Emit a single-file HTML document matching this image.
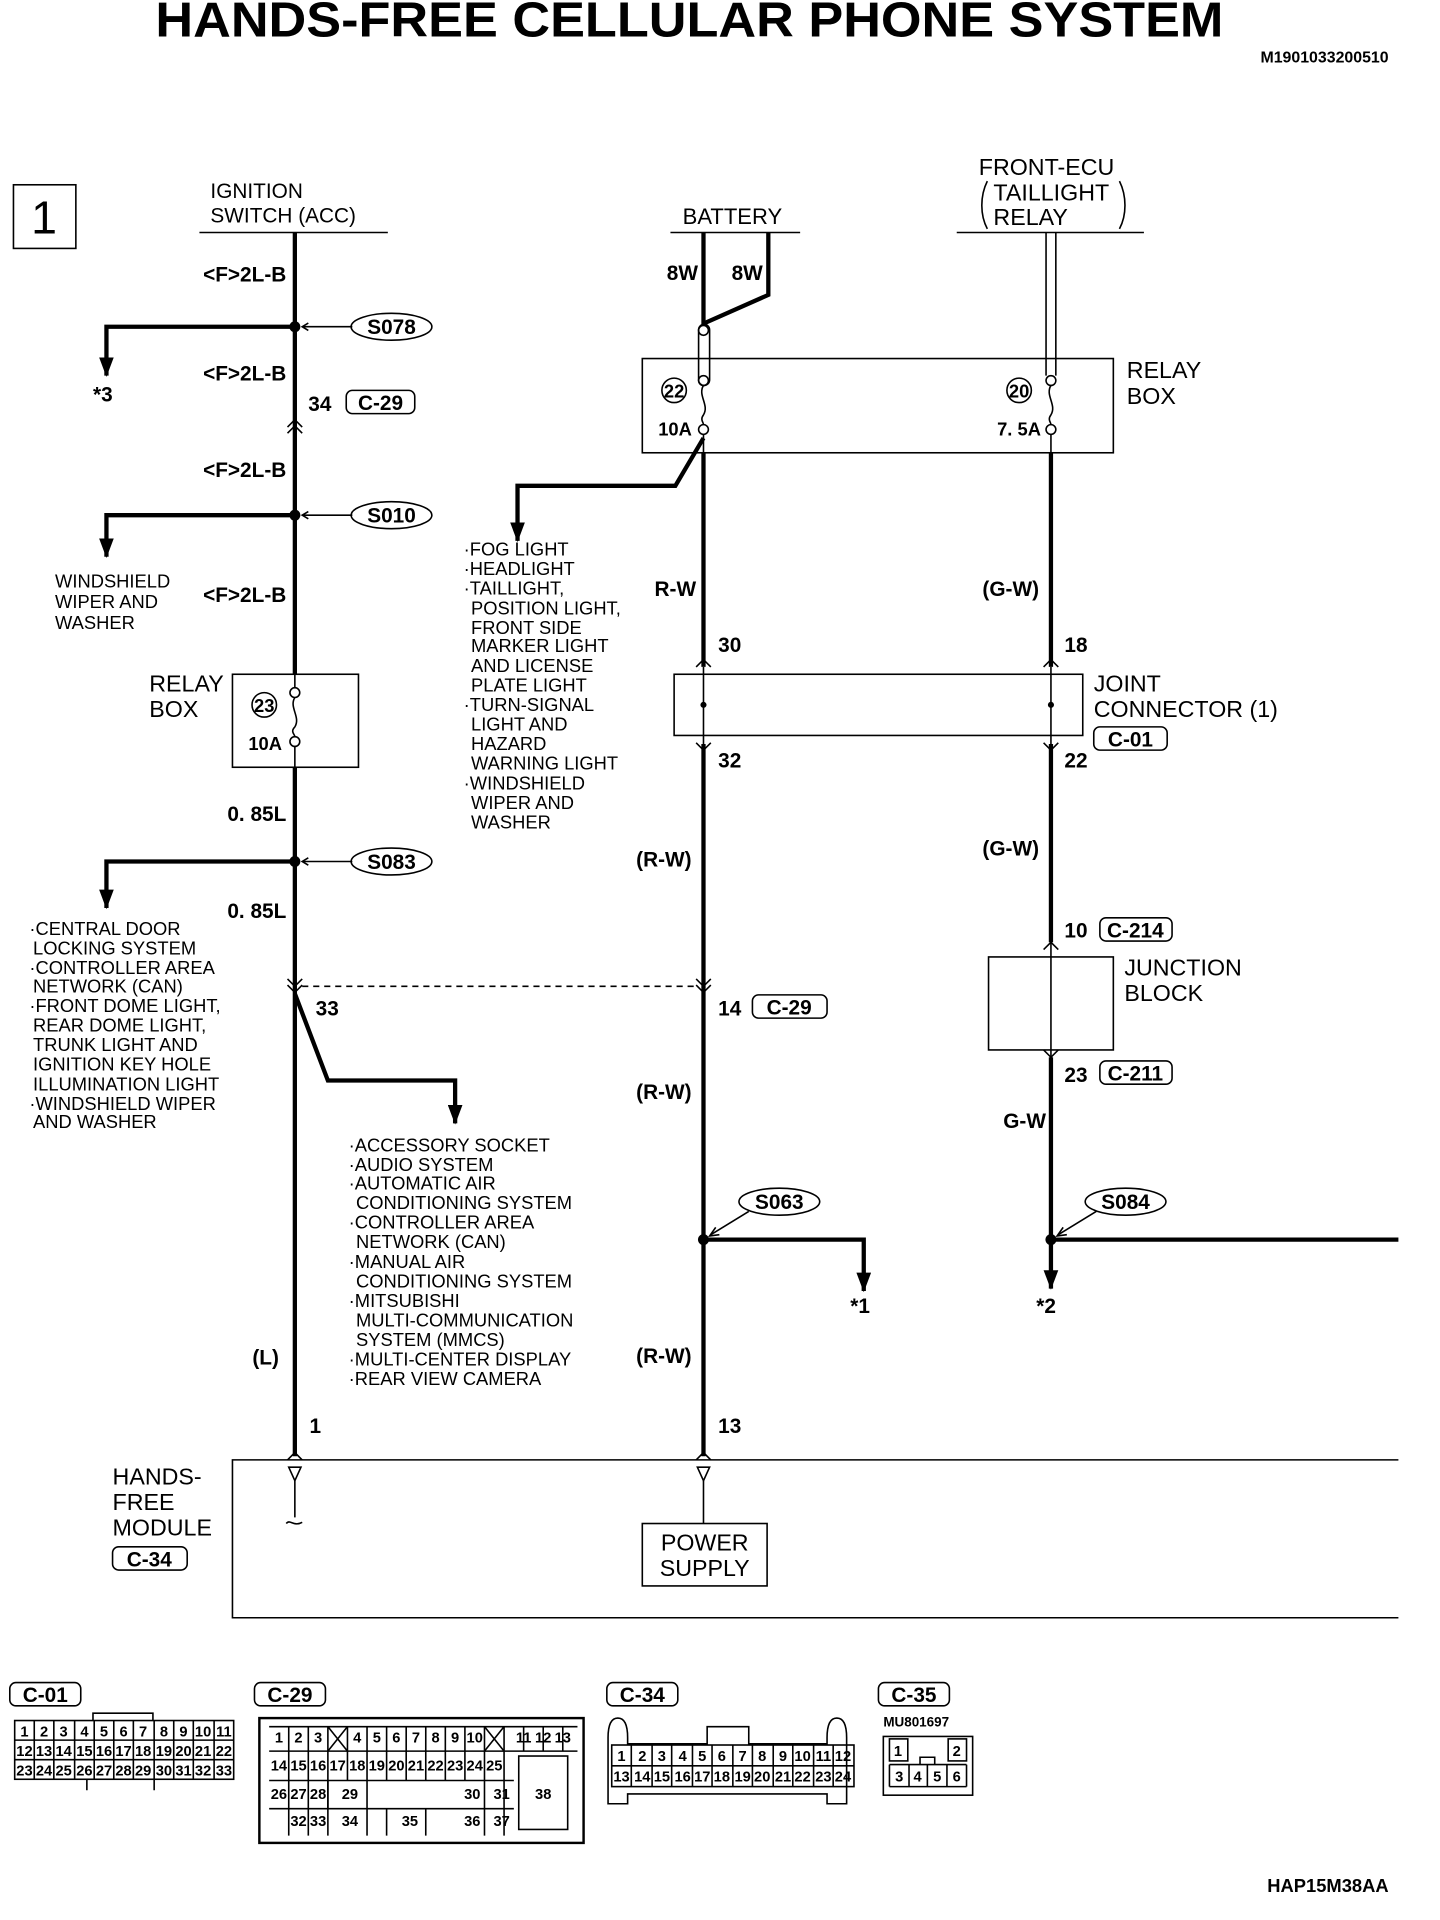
<!DOCTYPE html>
<html><head><meta charset="utf-8"><style>
html,body{margin:0;padding:0;background:#fff}
svg{display:block}
text{font-family:"Liberation Sans",sans-serif;fill:#000}
.t{font-size:17px}
.s{font-size:15px}
.b{font-size:17px;font-weight:bold;font-family:"Liberation Sans Narrow","Liberation Sans",sans-serif}
.w{stroke:#000;stroke-width:3.5;fill:none}
.n{stroke:#000;stroke-width:1.3;fill:none}
.g{font-size:12px;font-weight:bold;font-family:"Liberation Sans Narrow","Liberation Sans",sans-serif}
</style></head><body>
<svg width="1440" height="1920" viewBox="0 0 1177 1569" preserveAspectRatio="none" xmlns="http://www.w3.org/2000/svg">
<defs>
<marker id="ah" viewBox="0 0 16 12" refX="15" refY="6" markerWidth="16" markerHeight="12" orient="auto" markerUnits="userSpaceOnUse"><path d="M0,0L16,6L0,12z" fill="#000"/></marker>
</defs>
<text x="127" y="30" textLength="873" lengthAdjust="spacingAndGlyphs" style="font-size:40px;font-weight:bold">HANDS-FREE CELLULAR PHONE SYSTEM</text>
<text x="1135" y="51" text-anchor="end" class="g" style="font-size:13px">M1901033200510</text>
<rect x="11" y="151" width="51" height="52" class="n" stroke-width="1.6"/>
<text x="36" y="191" text-anchor="middle" style="font-size:38px">1</text>

<!-- Ignition -->
<text x="172" y="162" class="t">IGNITION</text>
<text x="172" y="182" class="t">SWITCH (ACC)</text>
<line x1="163" y1="190" x2="317" y2="190" class="n" stroke-width="2.5"/>
<line x1="241" y1="190" x2="241" y2="551" class="w"/>
<line x1="241" y1="627" x2="241" y2="1190" class="w"/>
<g class="b" text-anchor="end">
<text x="234" y="230" class="b">&lt;F&gt;2L-B</text>
<text x="234" y="311" class="b">&lt;F&gt;2L-B</text>
<text x="234" y="390" class="b">&lt;F&gt;2L-B</text>
<text x="234" y="492" class="b">&lt;F&gt;2L-B</text>
<text x="234" y="671" class="b">0. 85L</text>
<text x="234" y="750" class="b">0. 85L</text>
<text x="228" y="1115" class="b">(L)</text>
</g>
<!-- S078 -->
<circle cx="241" cy="267" r="4.5"/>
<polyline points="241,267 87,267 87,307" class="w" marker-end="url(#ah)"/>
<line x1="248" y1="267" x2="288" y2="267" class="n"/><path d="M252,264L247,267L252,270" class="n"/>
<ellipse cx="320" cy="267" rx="33" ry="11" class="n" stroke-width="1.6"/>
<text x="320" y="273" text-anchor="middle" class="b">S078</text>
<text x="76" y="328" class="b">*3</text>
<text x="252" y="336" class="b">34</text>
<rect x="283" y="319" width="56" height="19" rx="5" class="n" stroke-width="1.6"/>
<text x="311" y="335" text-anchor="middle" class="b">C-29</text>
<path d="M235,349L241,343L247,349M235,354L241,348L247,354" class="n"/>
<!-- S010 -->
<circle cx="241" cy="421" r="4.5"/>
<polyline points="241,421 87,421 87,455" class="w" marker-end="url(#ah)"/>
<line x1="248" y1="421" x2="288" y2="421" class="n"/><path d="M252,418L247,421L252,424" class="n"/>
<ellipse cx="320" cy="421" rx="33" ry="11" class="n" stroke-width="1.6"/>
<text x="320" y="427" text-anchor="middle" class="b">S010</text>
<text class="s" x="45" y="480">WINDSHIELD</text>
<text class="s" x="45" y="497">WIPER AND</text>
<text class="s" x="45" y="514">WASHER</text>
<!-- relay box 23 -->
<rect x="190" y="551" width="103" height="76" class="n" stroke-width="1.6"/>
<circle cx="216" cy="576" r="10" class="n" stroke-width="1.6"/>
<text x="216" y="582" text-anchor="middle" class="b" style="font-size:15px">23</text>
<text x="203" y="613" class="b" style="font-size:15px">10A</text>
<circle cx="241" cy="566" r="4" class="n"/><circle cx="241" cy="606" r="4" class="n"/>
<path d="M241,570 C236,578 246,586 241,594 C237,598 241,600 241,602" class="n"/>
<line x1="241" y1="551" x2="241" y2="562" class="n"/><line x1="241" y1="610" x2="241" y2="627" class="n"/>
<text x="122" y="565" class="t" style="font-size:19px">RELAY</text>
<text x="122" y="586" class="t" style="font-size:19px">BOX</text>
<!-- S083 -->
<circle cx="241" cy="704" r="4.5"/>
<polyline points="241,704 87,704 87,742" class="w" marker-end="url(#ah)"/>
<line x1="248" y1="704" x2="288" y2="704" class="n"/><path d="M252,701L247,704L252,707" class="n"/>
<ellipse cx="320" cy="704" rx="33" ry="11" class="n" stroke-width="1.6"/>
<text x="320" y="710" text-anchor="middle" class="b">S083</text>
<g class="s">
<text x="24" y="764">·CENTRAL DOOR</text>
<text x="27" y="780">LOCKING SYSTEM</text>
<text x="24" y="796">·CONTROLLER AREA</text>
<text x="27" y="811">NETWORK (CAN)</text>
<text x="24" y="827">·FRONT DOME LIGHT,</text>
<text x="27" y="843">REAR DOME LIGHT,</text>
<text x="27" y="859">TRUNK LIGHT AND</text>
<text x="27" y="875">IGNITION KEY HOLE</text>
<text x="27" y="891">ILLUMINATION LIGHT</text>
<text x="24" y="907">·WINDSHIELD WIPER</text>
<text x="27" y="922">AND WASHER</text>
</g>
<path d="M235,800L241,806L247,800M235,805L241,811L247,805" class="n"/>
<line x1="247" y1="806" x2="569" y2="806" class="n" stroke-dasharray="5,4"/>
<text x="258" y="830" class="b">33</text>
<polyline points="241,812 268,883 372,883 372,918" class="w" marker-end="url(#ah)"/>
<g class="s">
<text x="285" y="941">·ACCESSORY SOCKET</text>
<text x="285" y="957">·AUDIO SYSTEM</text>
<text x="285" y="972">·AUTOMATIC AIR</text>
<text x="291" y="988">CONDITIONING SYSTEM</text>
<text x="285" y="1004">·CONTROLLER AREA</text>
<text x="291" y="1020">NETWORK (CAN)</text>
<text x="285" y="1036">·MANUAL AIR</text>
<text x="291" y="1052">CONDITIONING SYSTEM</text>
<text x="285" y="1068">·MITSUBISHI</text>
<text x="291" y="1084">MULTI-COMMUNICATION</text>
<text x="291" y="1100">SYSTEM (MMCS)</text>
<text x="285" y="1116">·MULTI-CENTER DISPLAY</text>
<text x="285" y="1132">·REAR VIEW CAMERA</text>
</g>
<text x="253" y="1171" class="b">1</text>
<path d="M235,1193L241,1187L247,1193" class="n"/>

<!-- module -->
<polyline points="1143,1193 190,1193 190,1322 1143,1322" class="n" stroke-width="1.6"/>
<path d="M236,1199L246,1199L241,1210z" class="n"/>
<line x1="241" y1="1210" x2="241" y2="1240" class="n"/>
<path d="M234,1245 C237,1241 240,1248 247,1244" class="n"/>
<text x="92" y="1213" class="t" style="font-size:19px">HANDS-</text>
<text x="92" y="1234" class="t" style="font-size:19px">FREE</text>
<text x="92" y="1255" class="t" style="font-size:19px">MODULE</text>
<rect x="92" y="1264" width="61" height="19" rx="5" class="n" stroke-width="1.6"/>
<text x="122" y="1280" text-anchor="middle" class="b">C-34</text>

<!-- Battery -->
<text x="558" y="183" class="t" style="font-size:18px">BATTERY</text>
<line x1="548" y1="190" x2="654" y2="190" class="n" stroke-width="2.5"/>
<line x1="575" y1="190" x2="575" y2="265" class="w"/>
<polyline points="628,190 628,241 576,264" class="w"/>
<text x="545" y="229" class="b">8W</text><text x="598" y="229" class="b">8W</text>
<rect x="571" y="265" width="9" height="50" rx="4.5" class="n"/>
<circle cx="575" cy="270" r="4" class="n"/><circle cx="575" cy="311" r="4" class="n"/>
<rect x="525" y="293" width="385" height="77" class="n" stroke-width="1.6"/>
<text x="921" y="309" class="t" style="font-size:19px">RELAY</text>
<text x="921" y="330" class="t" style="font-size:19px">BOX</text>
<circle cx="551" cy="319" r="10" class="n" stroke-width="1.6"/>
<text x="551" y="325" text-anchor="middle" class="b" style="font-size:15px">22</text>
<text x="538" y="356" class="b" style="font-size:15px">10A</text>
<path d="M575,315 C570,323 580,331 575,339 C572,343 575,345 575,347" class="n"/>
<circle cx="575" cy="351" r="4" class="n"/>
<line x1="575" y1="355" x2="575" y2="370" class="n"/>
<line x1="575" y1="370" x2="575" y2="545" class="w"/>
<polyline points="575,358 552,397 423,397 423,442" class="w" marker-end="url(#ah)"/>
<g class="s">
<text x="379" y="454">·FOG LIGHT</text>
<text x="379" y="470">·HEADLIGHT</text>
<text x="379" y="486">·TAILLIGHT,</text>
<text x="385" y="502">POSITION LIGHT,</text>
<text x="385" y="518">FRONT SIDE</text>
<text x="385" y="533">MARKER LIGHT</text>
<text x="385" y="549">AND LICENSE</text>
<text x="385" y="565">PLATE LIGHT</text>
<text x="379" y="581">·TURN-SIGNAL</text>
<text x="385" y="597">LIGHT AND</text>
<text x="385" y="613">HAZARD</text>
<text x="385" y="629">WARNING LIGHT</text>
<text x="379" y="645">·WINDSHIELD</text>
<text x="385" y="661">WIPER AND</text>
<text x="385" y="677">WASHER</text>
</g>
<text x="535" y="487" class="b">R-W</text>
<text x="587" y="533" class="b">30</text>
<path d="M569,545L575,539L581,545" class="n"/>
<rect x="551" y="551" width="334" height="50" class="n" stroke-width="1.6"/>
<line x1="575" y1="545" x2="575" y2="608" class="n"/>
<circle cx="575" cy="576" r="2.5"/>
<path d="M569,607L575,613L581,607" class="n"/>
<text x="587" y="627" class="b">32</text>
<line x1="575" y1="608" x2="575" y2="1190" class="w"/>
<text x="520" y="708" class="b">(R-W)</text>
<path d="M569,800L575,806L581,800M569,805L575,811L581,805" class="n"/>
<text x="587" y="830" class="b">14</text>
<rect x="615" y="813" width="61" height="19" rx="5" class="n" stroke-width="1.6"/>
<text x="645" y="829" text-anchor="middle" class="b">C-29</text>
<text x="520" y="898" class="b">(R-W)</text>
<circle cx="575" cy="1013" r="4.5"/>
<polyline points="575,1013 706,1013 706,1055" class="w" marker-end="url(#ah)"/>
<line x1="581" y1="1009" x2="612" y2="990" class="n"/><path d="M585,1003L580,1010L588,1009" class="n"/>
<ellipse cx="637" cy="982" rx="33" ry="11" class="n" stroke-width="1.6"/>
<text x="637" y="988" text-anchor="middle" class="b">S063</text>
<text x="695" y="1073" class="b">*1</text>
<text x="520" y="1114" class="b">(R-W)</text>
<text x="587" y="1171" class="b">13</text>
<path d="M569,1193L575,1187L581,1193" class="n"/>
<path d="M570,1199L580,1199L575,1210z" class="n"/>
<line x1="575" y1="1210" x2="575" y2="1245" class="n"/>
<rect x="525" y="1245" width="102" height="51" class="n" stroke-width="1.6"/>
<text x="576" y="1267" text-anchor="middle" class="t" style="font-size:19px">POWER</text>
<text x="576" y="1288" text-anchor="middle" class="t" style="font-size:19px">SUPPLY</text>

<!-- Front ECU -->
<text x="800" y="143" class="t" style="font-size:19px">FRONT-ECU</text>
<text x="812" y="164" class="t" style="font-size:19px">TAILLIGHT</text>
<text x="812" y="184" class="t" style="font-size:19px">RELAY</text>
<path d="M807,148 C801,160 801,176 807,187" class="n"/>
<path d="M915,148 C921,160 921,176 915,187" class="n"/>
<line x1="782" y1="190" x2="935" y2="190" class="n" stroke-width="2.5"/>
<line x1="855" y1="190" x2="855" y2="307" class="n"/><line x1="863" y1="190" x2="863" y2="307" class="n"/>
<circle cx="859" cy="311" r="4" class="n"/>
<circle cx="833" cy="319" r="10" class="n" stroke-width="1.6"/>
<text x="833" y="325" text-anchor="middle" class="b" style="font-size:15px">20</text>
<text x="815" y="356" class="b" style="font-size:15px">7. 5A</text>
<path d="M859,315 C854,323 864,331 859,339 C856,343 859,345 859,347" class="n"/>
<circle cx="859" cy="351" r="4" class="n"/>
<line x1="859" y1="355" x2="859" y2="370" class="n"/>
<line x1="859" y1="370" x2="859" y2="545" class="w"/>
<text x="803" y="487" class="b">(G-W)</text>
<text x="870" y="533" class="b">18</text>
<path d="M853,545L859,539L865,545" class="n"/>
<line x1="859" y1="545" x2="859" y2="608" class="n"/>
<circle cx="859" cy="576" r="2.5"/>
<path d="M853,607L859,613L865,607" class="n"/>
<text x="870" y="627" class="b">22</text>
<text x="894" y="565" class="t" style="font-size:19px">JOINT</text>
<text x="894" y="586" class="t" style="font-size:19px">CONNECTOR (1)</text>
<rect x="894" y="594" width="60" height="19" rx="5" class="n" stroke-width="1.6"/>
<text x="924" y="610" text-anchor="middle" class="b">C-01</text>
<line x1="859" y1="608" x2="859" y2="770" class="w"/>
<text x="803" y="699" class="b">(G-W)</text>
<text x="870" y="766" class="b">10</text>
<rect x="899" y="750" width="59" height="19" rx="5" class="n" stroke-width="1.6"/>
<text x="928" y="766" text-anchor="middle" class="b">C-214</text>
<path d="M853,776L859,770L865,776" class="n"/>
<rect x="808" y="782" width="102" height="76" class="n" stroke-width="1.6"/>
<line x1="859" y1="770" x2="859" y2="864" class="n"/>
<text x="919" y="797" class="t" style="font-size:19px">JUNCTION</text>
<text x="919" y="818" class="t" style="font-size:19px">BLOCK</text>
<path d="M853,858L859,864L865,858" class="n"/>
<text x="870" y="884" class="b">23</text>
<rect x="899" y="867" width="59" height="19" rx="5" class="n" stroke-width="1.6"/>
<text x="928" y="883" text-anchor="middle" class="b">C-211</text>
<line x1="859" y1="864" x2="859" y2="1013" class="w"/>
<text x="820" y="922" class="b">G-W</text>
<circle cx="859" cy="1013" r="4.5"/>
<line x1="859" y1="1013" x2="1143" y2="1013" class="w"/>
<line x1="859" y1="1013" x2="859" y2="1053" class="w" marker-end="url(#ah)"/>
<line x1="865" y1="1009" x2="896" y2="990" class="n"/><path d="M869,1003L864,1010L872,1009" class="n"/>
<ellipse cx="920" cy="982" rx="33" ry="11" class="n" stroke-width="1.6"/>
<text x="920" y="988" text-anchor="middle" class="b">S084</text>
<text x="847" y="1073" class="b">*2</text>

<!-- Connectors -->
<g class="n" stroke-width="1.4">
<rect x="8" y="1375" width="58" height="19" rx="5"/>
<rect x="208" y="1375" width="58" height="19" rx="5"/>
<rect x="496" y="1375" width="58" height="19" rx="5"/>
<rect x="718" y="1375" width="58" height="19" rx="5"/>
</g>
<g class="b" text-anchor="middle"><text x="37" y="1391" class="b">C-01</text><text x="237" y="1391" class="b">C-29</text><text x="525" y="1391" class="b">C-34</text><text x="747" y="1391" class="b">C-35</text></g>
<!-- C-01 grid -->
<g class="n" stroke-width="1.4">
<rect x="12" y="1406" width="179" height="48"/>
<path d="M12,1422H191M12,1438H191"/>
<path d="M28,1406V1454M44,1406V1454M61,1406V1454M77,1406V1454M93,1406V1454M109,1406V1454M126,1406V1454M142,1406V1454M158,1406V1454M175,1406V1454"/>
<path d="M76,1406V1400H125V1406M71,1454V1463M126,1454V1463"/>
</g>
<g class="g" text-anchor="middle">
<text x="20" y="1419">1</text><text x="36" y="1419">2</text><text x="52" y="1419">3</text><text x="69" y="1419">4</text><text x="85" y="1419">5</text><text x="101" y="1419">6</text><text x="117" y="1419">7</text><text x="134" y="1419">8</text><text x="150" y="1419">9</text><text x="166" y="1419">10</text><text x="183" y="1419">11</text>
<text x="20" y="1435">12</text><text x="36" y="1435">13</text><text x="52" y="1435">14</text><text x="69" y="1435">15</text><text x="85" y="1435">16</text><text x="101" y="1435">17</text><text x="117" y="1435">18</text><text x="134" y="1435">19</text><text x="150" y="1435">20</text><text x="166" y="1435">21</text><text x="183" y="1435">22</text>
<text x="20" y="1451">23</text><text x="36" y="1451">24</text><text x="52" y="1451">25</text><text x="69" y="1451">26</text><text x="85" y="1451">27</text><text x="101" y="1451">28</text><text x="117" y="1451">29</text><text x="134" y="1451">30</text><text x="150" y="1451">31</text><text x="166" y="1451">32</text><text x="183" y="1451">33</text>
</g>
<!-- C-29 -->
<g class="n" stroke-width="1.4">
<rect x="212" y="1404" width="265" height="102" stroke-width="2"/>
<path d="M220,1411H472M220,1431H472M220,1455H420M220,1478H420"/>
<path d="M236,1411V1500M252,1411V1500M268,1411V1478M284,1411V1431M300,1411V1431M316,1411V1431M332,1411V1431M348,1411V1431M364,1411V1431M380,1411V1431M396,1411V1431M412,1411V1431M428,1411V1431M444,1411V1431M460,1411V1431"/>
<path d="M268,1411L284,1431M284,1411L268,1431M396,1411L412,1431M412,1411L396,1431"/>
<path d="M284,1431V1455M300,1431V1455M316,1431V1455M332,1431V1455M348,1431V1455M364,1431V1455M380,1431V1455M396,1431V1455M412,1431V1455"/>
<path d="M268,1455V1500M300,1455V1500M396,1455V1500M412,1455V1500M348,1478V1500M316,1478V1500"/>
<rect x="424" y="1435" width="40" height="60"/>
</g>
<g class="g" text-anchor="middle">
<text x="228" y="1424">1</text><text x="244" y="1424">2</text><text x="260" y="1424">3</text><text x="292" y="1424">4</text><text x="308" y="1424">5</text><text x="324" y="1424">6</text><text x="340" y="1424">7</text><text x="356" y="1424">8</text><text x="372" y="1424">9</text><text x="388" y="1424">10</text><text x="428" y="1424">11</text><text x="444" y="1424">12</text><text x="460" y="1424">13</text>
<text x="228" y="1447">14</text><text x="244" y="1447">15</text><text x="260" y="1447">16</text><text x="276" y="1447">17</text><text x="292" y="1447">18</text><text x="308" y="1447">19</text><text x="324" y="1447">20</text><text x="340" y="1447">21</text><text x="356" y="1447">22</text><text x="372" y="1447">23</text><text x="388" y="1447">24</text><text x="404" y="1447">25</text>
<text x="228" y="1470">26</text><text x="244" y="1470">27</text><text x="260" y="1470">28</text><text x="286" y="1470">29</text><text x="386" y="1470">30</text><text x="410" y="1470">31</text><text x="444" y="1470">38</text>
<text x="244" y="1492">32</text><text x="260" y="1492">33</text><text x="286" y="1492">34</text><text x="335" y="1492">35</text><text x="386" y="1492">36</text><text x="410" y="1492">37</text>
</g>
<!-- C-34 -->
<g class="n" stroke-width="1.4">
<path d="M497,1474V1420Q497,1404 505,1404Q513,1404 513,1420V1425H578V1411H612V1425H676V1420Q676,1404 684,1404Q692,1404 692,1420V1474H676V1466H513V1474Z"/>
<rect x="500" y="1426" width="198" height="34"/>
<path d="M500,1443H698"/>
<path d="M516,1426V1460M533,1426V1460M549,1426V1460M566,1426V1460M582,1426V1460M599,1426V1460M615,1426V1460M632,1426V1460M648,1426V1460M665,1426V1460M681,1426V1460"/>
</g>
<g class="g" text-anchor="middle">
<text x="508" y="1439">1</text><text x="525" y="1439">2</text><text x="541" y="1439">3</text><text x="558" y="1439">4</text><text x="574" y="1439">5</text><text x="590" y="1439">6</text><text x="607" y="1439">7</text><text x="623" y="1439">8</text><text x="640" y="1439">9</text><text x="656" y="1439">10</text><text x="673" y="1439">11</text><text x="689" y="1439">12</text>
<text x="508" y="1456">13</text><text x="525" y="1456">14</text><text x="541" y="1456">15</text><text x="558" y="1456">16</text><text x="574" y="1456">17</text><text x="590" y="1456">18</text><text x="607" y="1456">19</text><text x="623" y="1456">20</text><text x="640" y="1456">21</text><text x="656" y="1456">22</text><text x="673" y="1456">23</text><text x="689" y="1456">24</text>
</g>
<!-- C-35 -->
<text x="722" y="1411" class="g" style="font-size:11px">MU801697</text>
<g class="n" stroke-width="1.4">
<rect x="722" y="1419" width="73" height="48"/>
<rect x="727" y="1421" width="15" height="18"/><rect x="775" y="1421" width="15" height="18"/>
<path d="M727,1442H790M727,1442V1460M743,1442V1460M758,1442V1460M774,1442V1460M790,1442V1460M727,1460H790M752,1442V1436H764V1442"/>
</g>
<g class="g" text-anchor="middle"><text x="734" y="1435">1</text><text x="782" y="1435">2</text><text x="735" y="1456">3</text><text x="750" y="1456">4</text><text x="766" y="1456">5</text><text x="782" y="1456">6</text></g>

<text x="1135" y="1546" text-anchor="end" class="b" style="font-size:15px">HAP15M38AA</text>
</svg>
</body></html>
